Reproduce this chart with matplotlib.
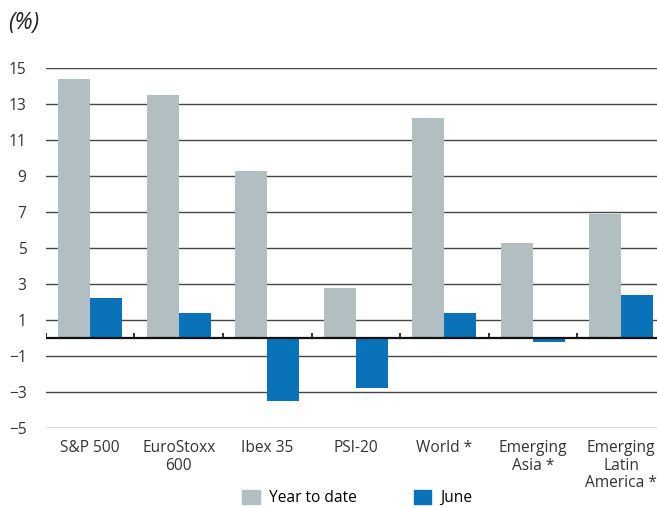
import numpy as np
import matplotlib
matplotlib.use("Agg")
import matplotlib.pyplot as plt
from matplotlib.patches import Patch

# chart data --------------------------------------------------------------
categories = ["S&P 500", "EuroStoxx\n600", "Ibex 35", "PSI-20", "World *",
              "Emerging\nAsia *", "Emerging\nLatin\nAmerica *"]
year_to_date = [14.4, 13.5, 9.3, 2.8, 12.2, 5.3, 6.9]
june = [2.2, 1.4, -3.5, -2.8, 1.4, -0.2, 2.4]
y_ticks = [-5, -3, -1, 1, 3, 5, 7, 9, 11, 13, 15]

grey = "#b1bec2"
blue = "#0a72b8"

plt.rcParams["font.family"] = ["Open Sans", "DejaVu Sans"]

fig = plt.figure(figsize=(6.57, 5.08), dpi=100)
# the right edge of the plot runs past the picture, as in the original
ax = fig.add_axes([0.070, 0.1575, 0.943, 0.7085])

x = np.arange(len(categories))
w = 0.36
ax.bar(x - w / 2, year_to_date, w, color=grey, zorder=2)
ax.bar(x + w / 2, june, w, color=blue, zorder=2)

ax.set_xlim(-0.5, len(categories) - 0.5)
ax.set_ylim(-5, 15)
ax.set_yticks(y_ticks)
ax.yaxis.grid(True, color="#444444", lw=1.0, zorder=0)
ax.axhline(0, color="#111111", lw=1.6, zorder=3)
# small ticks between the groups, sitting on the zero line
bounds = np.arange(len(categories) + 1) - 0.5
ax.vlines(bounds, 0, 0.28, color="#111111", lw=1.2, zorder=3)

ax.set_xticks(x)
ax.set_xticklabels(categories, fontsize=11.2, color="#333333", linespacing=1.1)
ax.tick_params(axis="x", length=0, pad=9)
ax.tick_params(axis="y", length=0, pad=14, labelsize=11.2, labelcolor="#333333")
for s in ax.spines.values():
    s.set_visible(False)

fig.text(0.013, 0.955, "(%)", fontsize=16.5, style="italic", color="#222222",
         va="center", ha="left")

handles = [Patch(color=grey, label="Year to date"), Patch(color=blue, label="June")]
fig.legend(handles=handles, loc="upper left", bbox_to_anchor=(0.369, 0.036),
           ncol=2, frameon=False, fontsize=11.2, handlelength=1.1,
           handleheight=1.0, columnspacing=3.7, handletextpad=0.6,
           borderpad=0, borderaxespad=0)

fig.savefig("out.png", dpi=100)
